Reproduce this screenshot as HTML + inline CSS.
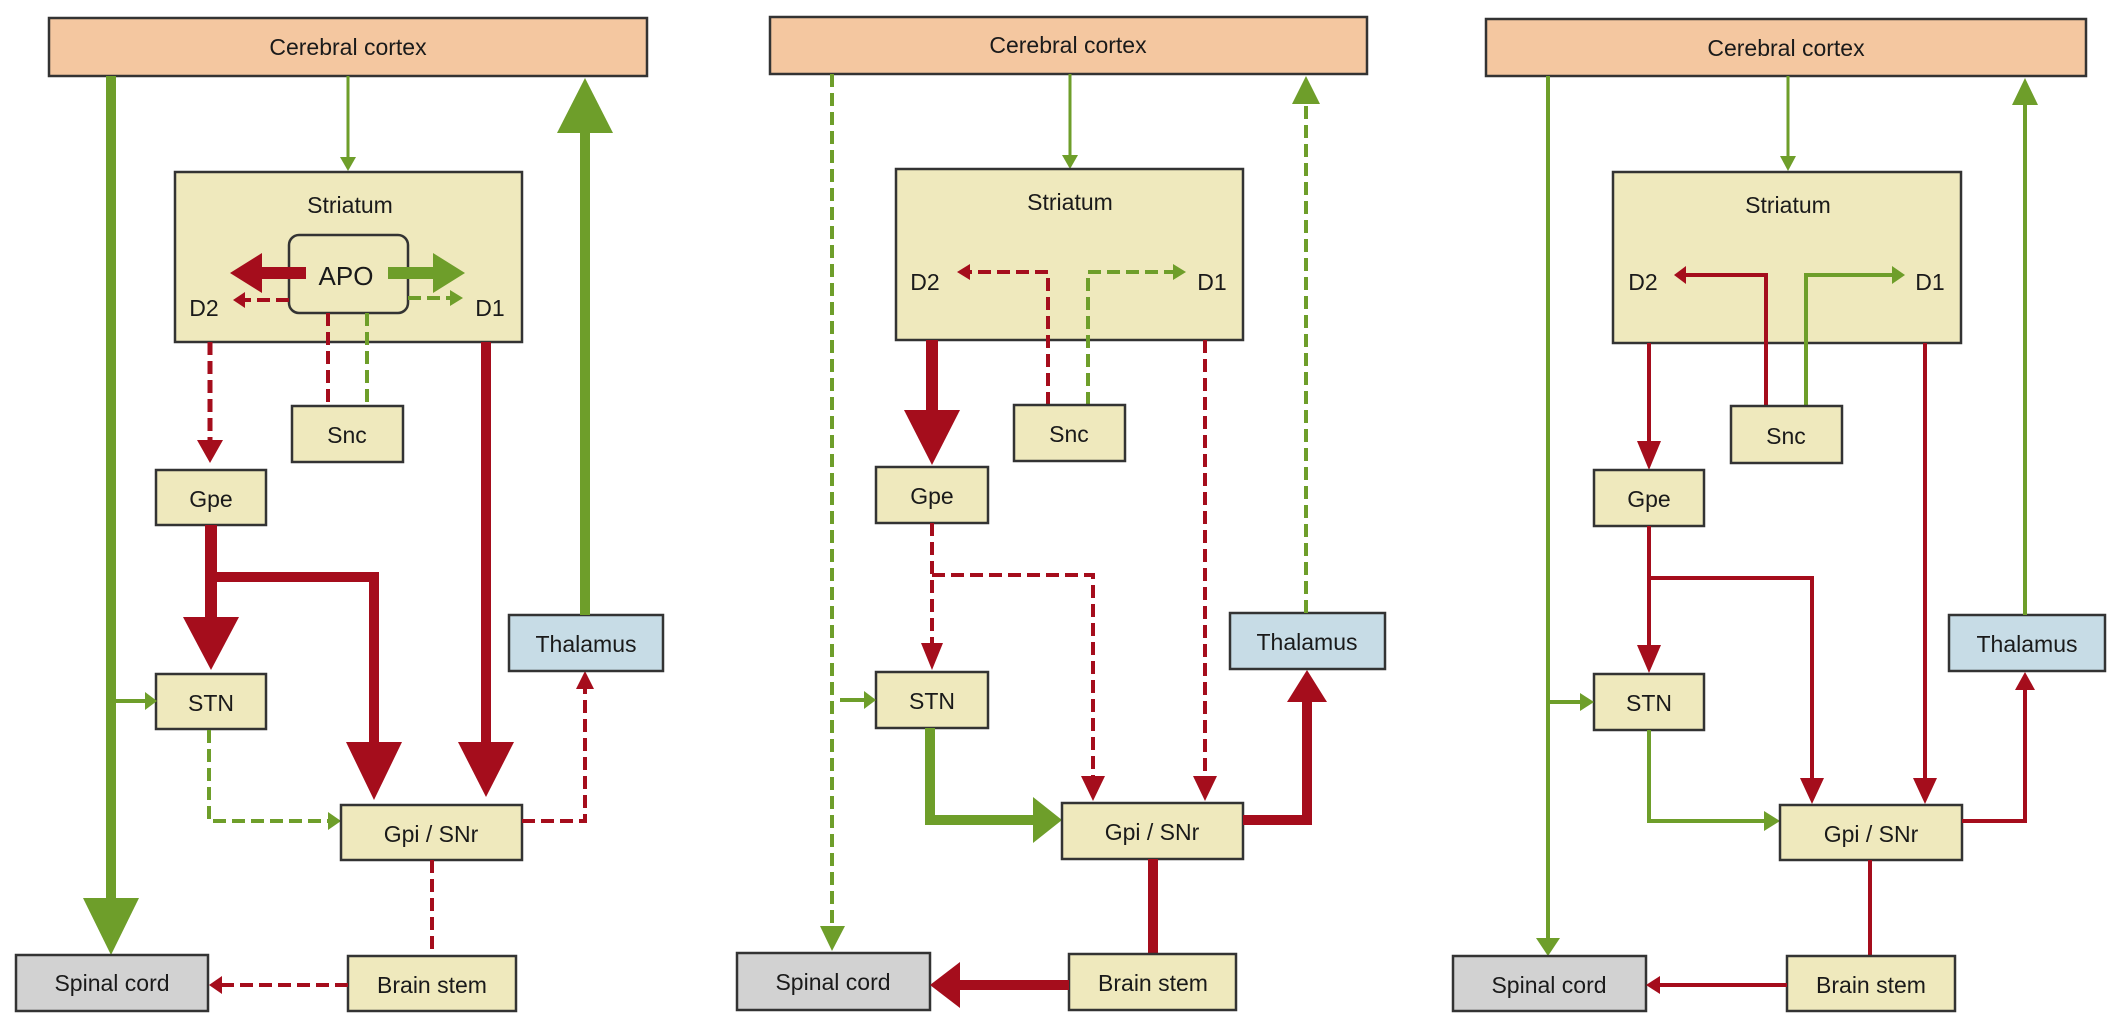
<!DOCTYPE html>
<html><head><meta charset="utf-8"><style>
html,body{margin:0;padding:0;background:#fff;}
svg{display:block;}
text{font-family:"Liberation Sans",Arial,sans-serif;font-size:23px;fill:#1a1a1a;text-anchor:middle;dominant-baseline:central;}
.b{fill:#efe9bd;stroke:#333;stroke-width:2.5;}
.c{fill:#f4c7a0;stroke:#333;stroke-width:2.5;}
.t{fill:#c7dce6;stroke:#333;stroke-width:2.5;}
.s{fill:#d2d2d2;stroke:#333;stroke-width:2.5;}
.r{stroke:#a50d1c;fill:none;}
.g{stroke:#6e9e2a;fill:none;}
.rf{fill:#a50d1c;}
.gf{fill:#6e9e2a;}
.d{stroke-dasharray:13 6;}
</style></head><body>
<svg width="2111" height="1032" viewBox="0 0 2111 1032" xmlns="http://www.w3.org/2000/svg">
<!-- ========== PANEL 1 ========== -->
<rect class="c" x="49" y="18" width="598" height="58"/>
<text x="348" y="47">Cerebral cortex</text>
<line class="g" x1="111" y1="76" x2="111" y2="900" stroke-width="10"/>
<polygon class="gf" points="83,898 139,898 111,955"/>
<rect class="s" x="16" y="955" width="192" height="56"/>
<text x="112" y="983">Spinal cord</text>
<line class="g" x1="348" y1="76" x2="348" y2="160" stroke-width="3"/>
<polygon class="gf" points="340,157 356,157 348,171"/>
<rect class="b" x="175" y="172" width="347" height="170"/>
<text x="350" y="205">Striatum</text>
<rect x="289" y="235" width="119" height="78" rx="10" fill="none" stroke="#333" stroke-width="2.5"/>
<text x="346" y="276" style="font-size:26px">APO</text>
<line class="r" x1="306" y1="273" x2="258" y2="273" stroke-width="12"/>
<polygon class="rf" points="262,253 262,293 230,273"/>
<line class="g" x1="388" y1="273" x2="437" y2="273" stroke-width="12"/>
<polygon class="gf" points="433,253 433,293 465,273"/>
<text x="204" y="308">D2</text>
<text x="490" y="308">D1</text>
<line class="r d" x1="289" y1="300" x2="243" y2="300" stroke-width="4"/>
<polygon class="rf" points="245,292 245,308 233,300"/>
<line class="g d" x1="408" y1="298" x2="452" y2="298" stroke-width="4"/>
<polygon class="gf" points="450,290 450,306 463,298"/>
<line class="r d" x1="210" y1="342" x2="210" y2="442" stroke-width="5"/>
<polygon class="rf" points="197,440 223,440 210,463"/>
<line class="r d" x1="328" y1="313" x2="328" y2="406" stroke-width="4"/>
<line class="g d" x1="367" y1="313" x2="367" y2="406" stroke-width="4"/>
<rect class="b" x="292" y="406" width="111" height="56"/>
<text x="347" y="435">Snc</text>
<line class="r" x1="486" y1="342" x2="486" y2="745" stroke-width="10"/>
<polygon class="rf" points="458,742 514,742 486,797"/>
<rect class="b" x="156" y="470" width="110" height="55"/>
<text x="211" y="499">Gpe</text>
<line class="r" x1="211" y1="525" x2="211" y2="620" stroke-width="12"/>
<path class="r" d="M211,577 H374 V745" stroke-width="10"/>
<polygon class="rf" points="183,617 239,617 211,670"/>
<polygon class="rf" points="346,742 402,742 374,800"/>
<rect class="b" x="156" y="674" width="110" height="55"/>
<text x="211" y="703">STN</text>
<line class="g" x1="111" y1="701" x2="147" y2="701" stroke-width="4"/>
<polygon class="gf" points="145,692 145,710 157,701"/>
<path class="g d" d="M209,730 V821 H330" stroke-width="4"/>
<polygon class="gf" points="328,812 328,830 341,821"/>
<rect class="b" x="341" y="805" width="181" height="55"/>
<text x="431" y="834">Gpi / SNr</text>
<path class="r d" d="M522,821 H585 V688" stroke-width="4"/>
<polygon class="rf" points="576,689 594,689 585,671"/>
<rect class="t" x="509" y="615" width="154" height="56"/>
<text x="586" y="644">Thalamus</text>
<line class="g" x1="585" y1="615" x2="585" y2="130" stroke-width="10"/>
<polygon class="gf" points="557,133 613,133 585,78"/>
<line class="r d" x1="432" y1="860" x2="432" y2="956" stroke-width="4"/>
<rect class="b" x="348" y="956" width="168" height="55"/>
<text x="432" y="985">Brain stem</text>
<line class="r d" x1="348" y1="985" x2="222" y2="985" stroke-width="4"/>
<polygon class="rf" points="222,976 222,994 209,985"/>

<!-- ========== PANEL 2 ========== -->
<rect class="c" x="770" y="17" width="597" height="57"/>
<text x="1068" y="45">Cerebral cortex</text>
<line class="g d" x1="832" y1="74" x2="832" y2="928" stroke-width="4"/>
<polygon class="gf" points="820,926 845,926 832,951"/>
<rect class="s" x="737" y="953" width="193" height="57"/>
<text x="833" y="982">Spinal cord</text>
<line class="g" x1="1070" y1="74" x2="1070" y2="158" stroke-width="3"/>
<polygon class="gf" points="1062,155 1078,155 1070,169"/>
<rect class="b" x="896" y="169" width="347" height="171"/>
<text x="1070" y="202">Striatum</text>
<text x="925" y="282">D2</text>
<text x="1212" y="282">D1</text>
<path class="r d" d="M1048,405 V272 H969" stroke-width="4"/>
<polygon class="rf" points="970,264 970,280 957,272"/>
<path class="g d" d="M1088,405 V272 H1175" stroke-width="4"/>
<polygon class="gf" points="1173,264 1173,280 1186,272"/>
<rect class="b" x="1014" y="405" width="111" height="56"/>
<text x="1069" y="434">Snc</text>
<line class="r" x1="932" y1="340" x2="932" y2="413" stroke-width="12"/>
<polygon class="rf" points="904,410 960,410 932,465"/>
<rect class="b" x="876" y="467" width="112" height="56"/>
<text x="932" y="496">Gpe</text>
<line class="r d" x1="932" y1="523" x2="932" y2="645" stroke-width="4"/>
<polygon class="rf" points="921,643 943,643 932,670"/>
<path class="r d" d="M932,575 H1093 V778" stroke-width="4"/>
<polygon class="rf" points="1081,776 1105,776 1093,801"/>
<rect class="b" x="876" y="672" width="112" height="56"/>
<text x="932" y="701">STN</text>
<line class="g" x1="840" y1="700" x2="866" y2="700" stroke-width="4"/>
<polygon class="gf" points="864,691 864,709 876,700"/>
<path class="g" d="M930,728 V820 H1036" stroke-width="10"/>
<polygon class="gf" points="1033,797 1033,843 1062,820"/>
<line class="r d" x1="1205" y1="340" x2="1205" y2="778" stroke-width="4"/>
<polygon class="rf" points="1193,776 1217,776 1205,801"/>
<rect class="b" x="1062" y="803" width="181" height="56"/>
<text x="1152" y="832">Gpi / SNr</text>
<path class="r" d="M1243,820 H1307 V700" stroke-width="10"/>
<polygon class="rf" points="1287,702 1327,702 1307,670"/>
<rect class="t" x="1230" y="613" width="155" height="56"/>
<text x="1307" y="642">Thalamus</text>
<line class="g d" x1="1306" y1="613" x2="1306" y2="103" stroke-width="4"/>
<polygon class="gf" points="1292,104 1320,104 1306,76"/>
<line class="r" x1="1153" y1="859" x2="1153" y2="954" stroke-width="10"/>
<rect class="b" x="1069" y="954" width="167" height="56"/>
<text x="1153" y="983">Brain stem</text>
<line class="r" x1="1069" y1="985" x2="958" y2="985" stroke-width="10"/>
<polygon class="rf" points="960,962 960,1008 930,985"/>

<!-- ========== PANEL 3 ========== -->
<rect class="c" x="1486" y="19" width="600" height="57"/>
<text x="1786" y="48">Cerebral cortex</text>
<line class="g" x1="1548" y1="76" x2="1548" y2="940" stroke-width="4"/>
<polygon class="gf" points="1536,938 1560,938 1548,956"/>
<rect class="s" x="1453" y="956" width="193" height="55"/>
<text x="1549" y="985">Spinal cord</text>
<line class="g" x1="1788" y1="76" x2="1788" y2="158" stroke-width="3"/>
<polygon class="gf" points="1780,156 1796,156 1788,171"/>
<rect class="b" x="1613" y="172" width="348" height="171"/>
<text x="1788" y="205">Striatum</text>
<text x="1643" y="282">D2</text>
<text x="1930" y="282">D1</text>
<path class="r" d="M1766,406 V275 H1684" stroke-width="4"/>
<polygon class="rf" points="1686,266 1686,284 1674,275"/>
<path class="g" d="M1806,406 V275 H1894" stroke-width="4"/>
<polygon class="gf" points="1892,266 1892,284 1905,275"/>
<rect class="b" x="1731" y="406" width="111" height="57"/>
<text x="1786" y="436">Snc</text>
<line class="r" x1="1649" y1="343" x2="1649" y2="443" stroke-width="4"/>
<polygon class="rf" points="1637,441 1661,441 1649,470"/>
<rect class="b" x="1594" y="470" width="110" height="56"/>
<text x="1649" y="499">Gpe</text>
<line class="r" x1="1649" y1="526" x2="1649" y2="647" stroke-width="4"/>
<polygon class="rf" points="1637,645 1661,645 1649,673"/>
<path class="r" d="M1649,578 H1812 V780" stroke-width="4"/>
<polygon class="rf" points="1800,778 1824,778 1812,804"/>
<rect class="b" x="1594" y="674" width="110" height="56"/>
<text x="1649" y="703">STN</text>
<line class="g" x1="1548" y1="702" x2="1582" y2="702" stroke-width="4"/>
<polygon class="gf" points="1580,693 1580,711 1594,702"/>
<path class="g" d="M1649,730 V821 H1766" stroke-width="4"/>
<polygon class="gf" points="1764,811 1764,831 1780,821"/>
<line class="r" x1="1925" y1="343" x2="1925" y2="780" stroke-width="4"/>
<polygon class="rf" points="1913,778 1937,778 1925,804"/>
<rect class="b" x="1780" y="805" width="182" height="55"/>
<text x="1871" y="834">Gpi / SNr</text>
<path class="r" d="M1962,821 H2025 V690" stroke-width="4"/>
<polygon class="rf" points="2015,690 2035,690 2025,672"/>
<rect class="t" x="1949" y="615" width="156" height="56"/>
<text x="2027" y="644">Thalamus</text>
<line class="g" x1="2025" y1="615" x2="2025" y2="103" stroke-width="4"/>
<polygon class="gf" points="2012,105 2038,105 2025,78"/>
<line class="r" x1="1870" y1="860" x2="1870" y2="956" stroke-width="4"/>
<rect class="b" x="1787" y="956" width="168" height="55"/>
<text x="1871" y="985">Brain stem</text>
<line class="r" x1="1787" y1="985" x2="1660" y2="985" stroke-width="4"/>
<polygon class="rf" points="1660,976 1660,994 1646,985"/>
</svg>
</body></html>
